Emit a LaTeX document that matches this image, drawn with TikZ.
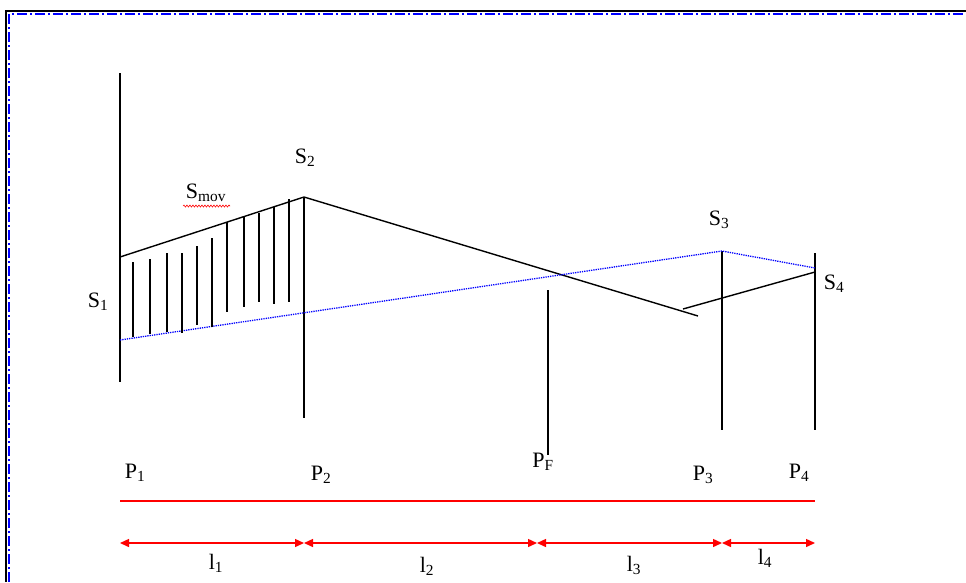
\documentclass[tikz,border=0pt]{standalone}
\usepackage{fontspec}
\setmainfont{Liberation Serif}
\usetikzlibrary{arrows.meta,decorations.pathmorphing}

\begin{document}
\begin{tikzpicture}[x=1pt,y=-1pt,line width=1.4pt,
  lbl/.style={font=\fontsize{22}{26}\selectfont,inner sep=0pt},
  proj/.style={blue,densely dotted,line width=1.3pt},
  dimline/.style={red,line width=1.4pt,{Triangle[length=9pt,width=8pt]}-{Triangle[length=9pt,width=8pt]}}]
  \useasboundingbox (0,0) rectangle (966,582);
  % frame
  \draw[line width=1.6pt] (6,582)--(6,11)--(966,11);
  \draw[blue,line width=1.6pt,dash pattern=on 10pt off 3pt on 2pt off 3pt] (9,582)--(9,14)--(966,14);

  % points
  \coordinate (P1t) at (120,73);
  \coordinate (P1b) at (120,382);
  \coordinate (S1) at (120,257);
  \coordinate (B1) at (120,340);
  \coordinate (S2) at (304,197);
  \coordinate (P2b) at (304,418);
  \coordinate (E2) at (698,316);
  \coordinate (K3) at (683,309);
  \coordinate (S3) at (722,251);
  \coordinate (P3b) at (722,430);
  \coordinate (S4t) at (815,253);
  \coordinate (S4) at (815,272);
  \coordinate (B4) at (815,268);
  \coordinate (P4b) at (815,430);
  \coordinate (PFt) at (548,290);
  \coordinate (PFb) at (548,455);

  % verticals
  \draw (P1t)--(P1b);
  \draw (S2)--(P2b);
  \draw (S3)--(P3b);
  \draw (S4t)--(P4b);
  \draw (PFt)--(PFb);

  % profile
  \draw (S1)--(S2)--(E2);
  \draw (K3)--(S4);
  \draw[proj] (B1)--(S3)--(B4);

  % hatching
  \foreach \x/\t/\b in {133/262/337,150/259/334,167/253/332,182/253/333,
      197/246/325,212/238/327,227/222/312,244/217/307,259/213/302,
      274/207/304,289/199/302}
    \draw (\x,\t)--(\x,\b);

  % labels
  \node[lbl] (lS1) at (98,302) {S\textsubscript{1}};
  \node[lbl] (lS2) at (305,158) {S\textsubscript{2}};
  \node[lbl] (lSm) at (206,193) {S\textsubscript{mov}};
  \draw[red,line width=0.6pt,decorate,decoration={snake,amplitude=1pt,segment length=3pt}]
    (183,206)--(230,206);
  \node[lbl] (lS3) at (719,220) {S\textsubscript{3}};
  \node[lbl] (lS4) at (834,284) {S\textsubscript{4}};

  \node[lbl] (lP1) at (135,473) {P\textsubscript{1}};
  \node[lbl] (lP2) at (321,475) {P\textsubscript{2}};
  \node[lbl] (lPF) at (543,462) {P\textsubscript{F}};
  \node[lbl] (lP3) at (703,475) {P\textsubscript{3}};
  \node[lbl] (lP4) at (799,473) {P\textsubscript{4}};

  % red axis
  \coordinate (A1) at (120,501);
  \coordinate (A4) at (815,501);
  \draw[red,line width=1.4pt] (A1)--(A4);

  % distances
  \coordinate (D1) at (120,543);
  \coordinate (D2) at (304,543);
  \coordinate (DF) at (537,543);
  \coordinate (D3) at (722,543);
  \coordinate (D4) at (815,543);
  \draw[dimline] (D1)--(D2);
  \draw[dimline] (D2)--(DF);
  \draw[dimline] (DF)--(D3);
  \draw[dimline] (D3)--(D4);
  \node[lbl] (l1) at (216,563) {l\textsubscript{1}};
  \node[lbl] (l2) at (427,566) {l\textsubscript{2}};
  \node[lbl] (l3) at (634,565) {l\textsubscript{3}};
  \node[lbl] (l4) at (765,558) {l\textsubscript{4}};
\end{tikzpicture}
\end{document}
